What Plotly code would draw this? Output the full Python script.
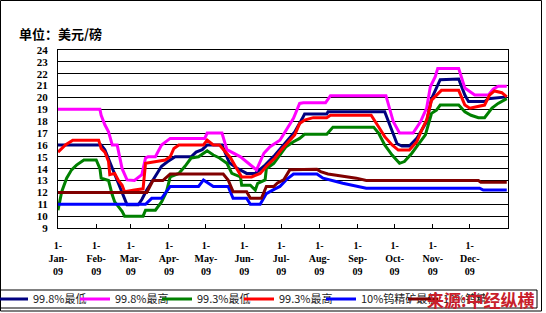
import datetime as dt
import plotly.graph_objects as go

# ---- data (day offsets within 2009, values in USD/lb) ----
series_names = ["99.8%最低", "99.8%最高", "99.3%最低", "99.3%最高", "10%钨精矿最低", "10%钨精矿最高"]
series_colors = ["#000080", "#FF00FF", "#008000", "#FF0000", "#0000FF", "#800000"]

navy_days = [0,35,38,42,45,49,53,56,65,68,72,76,80,84,89,95,108,112,117,121,133,139,145,153,160,168,176,184,192,198,200,218,219,265,271,275,279,285,291,299,303,307,310,325,330,333,346,349,364]
navy_vals = [16.0,16.0,15.6,14.6,13.75,12.8,11.8,10.95,10.95,11.4,12.2,12.9,13.6,14.2,14.6,15.0,15.0,15.4,15.6,16.0,16.0,14.5,14.05,13.6,13.6,14.3,15.15,16.1,17.1,18.2,18.6,18.6,18.8,18.8,17.1,16.1,15.9,15.9,16.55,17.95,19.9,20.9,21.5,21.55,20.2,19.65,19.65,19.9,20.05]

magenta_days = [0,34,35,38,41,44,48,52,56,62,68,71,73,79,84,91,119,121,133,137,148,156,161,167,172,180,185,191,196,199,217,221,266,268,272,277,288,294,299,302,306,308,325,330,334,338,349,353,357,364]
magenta_vals = [19.0,19.0,18.5,17.7,17.1,16.0,16.0,14.0,13.05,13.0,13.5,14.9,15.0,15.0,16.0,16.55,16.55,17.0,17.0,15.6,15.0,14.3,13.9,15.3,15.85,16.4,17.25,18.25,19.5,19.55,19.55,20.15,20.15,19.4,17.95,17.0,17.0,17.95,19.1,20.9,21.75,22.45,22.45,20.8,20.5,20.2,20.2,20.7,20.95,20.95]

green_days = [0,3,7,11,15,21,31,34,35,41,44,46,52,54,69,71,79,84,88,91,98,103,108,114,121,126,131,137,141,148,149,156,160,162,168,169,175,180,185,191,196,200,218,223,256,260,265,271,277,281,287,292,298,303,307,310,325,330,335,341,346,352,357,364]
green_vals = [10.5,12.06,13.2,13.9,14.3,14.73,14.73,14.0,13.2,13.0,11.8,11.2,10.4,10.0,10.0,10.5,10.5,11.2,12.06,13.3,13.6,14.2,14.9,15.0,15.5,15.15,14.9,14.45,13.6,13.3,12.6,12.6,12.2,12.77,13.05,14.0,14.45,15.15,15.85,16.27,16.55,16.9,16.9,17.5,17.5,17.0,16.0,15.15,14.45,14.6,15.3,16.0,16.85,18.66,18.94,19.36,19.36,18.8,18.5,18.3,18.3,19.1,19.5,19.9]

red_days = [0,6,12,33,35,38,41,42,46,49,52,54,62,69,71,79,87,91,94,98,118,121,126,131,140,145,149,157,164,169,176,181,187,192,196,200,207,218,221,254,260,265,271,276,285,291,295,299,303,307,311,325,330,334,338,346,350,354,360,364]
red_vals = [15.4,16.0,16.4,16.4,15.7,15.4,14.6,13.5,13.6,13.0,12.6,12.06,12.2,12.3,14.45,14.6,14.73,15.0,15.7,16.0,16.0,16.4,16.0,16.0,14.9,14.0,13.3,13.3,13.6,14.2,14.9,15.57,16.27,16.85,17.8,18.1,18.3,18.3,18.5,18.5,17.53,16.7,16.0,15.57,15.57,16.27,17.25,18.1,19.78,20.2,20.6,20.6,19.36,19.1,19.2,19.36,20.2,20.55,20.4,20.05]

blue_days = [0,71,76,84,91,114,118,126,138,142,153,156,164,169,176,180,185,191,210,215,231,242,250,342,345,364]
blue_vals = [11.0,11.0,11.5,11.5,12.5,12.5,13.05,12.5,12.5,11.5,11.5,11.0,11.0,11.9,12.3,12.5,13.05,13.55,13.55,13.2,12.77,12.5,12.36,12.36,12.2,12.2]

maroon_days = [0,72,77,85,91,134,138,142,153,156,165,169,175,178,183,188,210,213,219,231,242,250,341,343,364]
maroon_vals = [12.0,12.0,13.0,13.0,13.55,13.55,13.05,12.06,12.06,11.5,11.5,12.5,12.5,12.8,13.05,13.9,13.95,13.75,13.55,13.4,13.2,13.0,13.0,12.85,12.85]

month_labels = ["Jan", "Feb", "Mar", "Apr", "May", "Jun", "Jul", "Aug", "Sep", "Oct", "Nov", "Dec"]
y_ticks = list(range(9, 25))

base = dt.date(2009, 1, 1)
all_days = [navy_days, magenta_days, green_days, red_days, blue_days, maroon_days]
all_vals = [navy_vals, magenta_vals, green_vals, red_vals, blue_vals, maroon_vals]

fig = go.Figure()
for name, color, days, vals in zip(series_names, series_colors, all_days, all_vals):
    fig.add_trace(go.Scatter(
        x=[base + dt.timedelta(days=d) for d in days], y=vals, name=name,
        mode="lines", line=dict(color=color, width=3)))

tickvals = [dt.date(2009, m, 1) for m in range(1, 13)]
ticktext = ["1-<br>%s-<br>09" % m for m in month_labels]

W, H = 546, 313
L, R, T, B = 58, 508, 50, 228
pw, ph = R - L, B - T
def px(x):
    return (x - L) / pw
def py(y):
    return (B - y) / ph

fig.update_layout(
    width=W, height=H,
    margin=dict(l=L, r=W - R, t=T, b=H - B, pad=0, autoexpand=False),
    paper_bgcolor="white", plot_bgcolor="white",
    showlegend=True,
    legend=dict(orientation="h", x=px(-7), xanchor="left", y=py(299), yanchor="middle",
                font=dict(family="Noto Sans CJK SC", size=11, color="#222222"),
                bgcolor="rgba(0,0,0,0)", borderwidth=0, itemwidth=30,
                entrywidth=37, entrywidthmode="pixels", tracegroupgap=0),
    xaxis=dict(type="date", range=["2009-01-01", "2010-01-01"], automargin=False,
               tickvals=tickvals, ticktext=ticktext, tickangle=0,
               ticks="inside", ticklen=4, tickcolor="black", tickwidth=1,
               showgrid=False, showline=True, linecolor="black", linewidth=1, mirror=True,
               tickfont=dict(family="Liberation Serif", size=10, color="black", weight="bold"),
               ticklabelstandoff=8, zeroline=False),
    yaxis=dict(range=[9, 24], tickvals=y_ticks, ticks="", showgrid=True, automargin=False,
               gridcolor="black", gridwidth=1, showline=True, linecolor="black",
               linewidth=1, mirror=True, zeroline=False,
               tickfont=dict(family="Liberation Serif", size=11, color="black", weight="bold"),
               ticklabelstandoff=7),
    shapes=[
        dict(type="rect", xref="paper", yref="paper", x0=px(0.5), x1=px(541.5),
             y0=py(311), y1=py(0.5), line=dict(color="black", width=1), layer="above"),
        dict(type="rect", xref="paper", yref="paper", x0=px(0.5), x1=px(537),
             y0=py(308), y1=py(290), line=dict(color="black", width=1), layer="above"),
    ],
    annotations=[
        dict(text="<b>单位：美元/磅</b>", xref="paper", yref="paper", x=px(17), y=py(33),
             xanchor="left", yanchor="middle", showarrow=False,
             font=dict(family="Noto Sans CJK SC", size=13, color="black")),
        dict(text="<b>来源:中经纵横</b>", xref="paper", yref="paper", x=px(537), y=py(299),
             xanchor="right", yanchor="middle", showarrow=False,
             font=dict(family="Noto Sans CJK SC", size=17, color="#C8202A")),
    ],
)

fig.write_html("out.html")
